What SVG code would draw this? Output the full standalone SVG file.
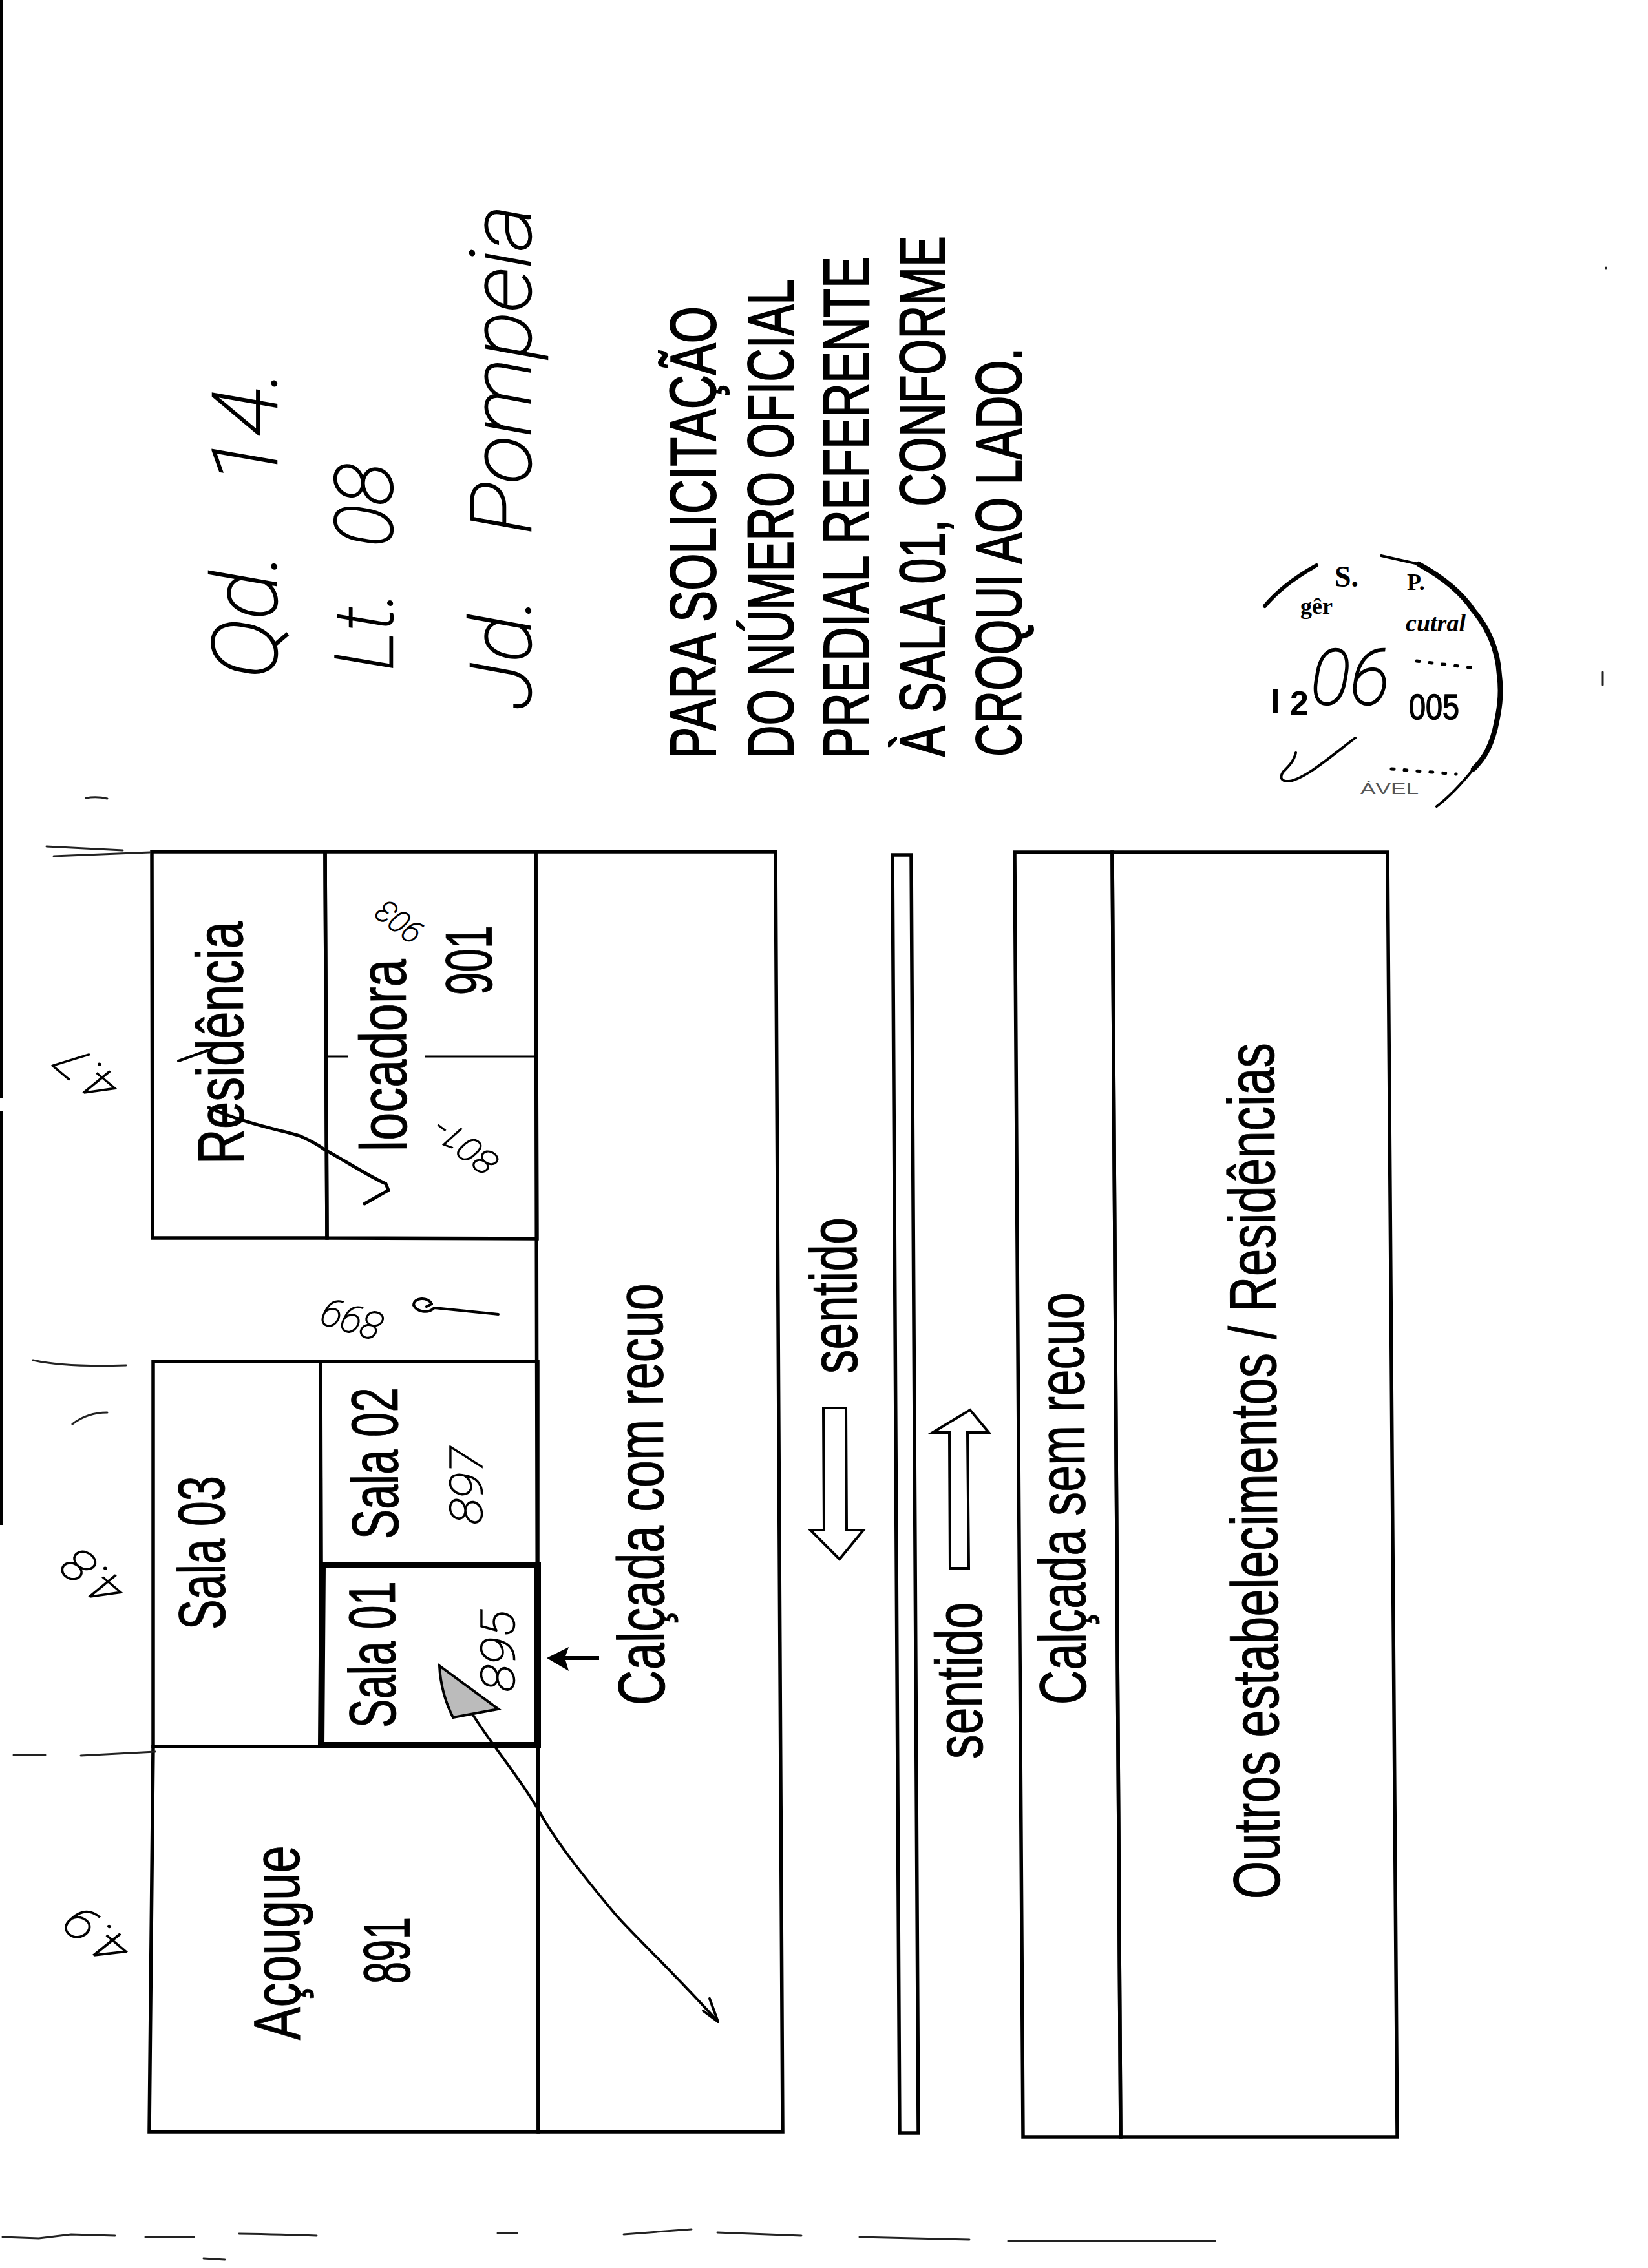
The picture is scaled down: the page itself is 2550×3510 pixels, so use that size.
<svg xmlns="http://www.w3.org/2000/svg" width="2550" height="3510" viewBox="0 0 2550 3510">
<style>
.box{fill:none;stroke:#000;stroke-width:5.5;stroke-linejoin:miter}
.thick{fill:none;stroke:#000;stroke-width:10}
.t{font-family:"Liberation Sans",Arial,sans-serif;font-size:102px;fill:#000;stroke:#000;stroke-width:1}
.p{font-family:"Liberation Sans",Arial,sans-serif;font-size:100px;fill:#000;stroke:#000;stroke-width:2}
.h{font-family:Roboto,"DejaVu Sans",sans-serif;font-weight:100;font-style:italic;fill:#000;stroke:#000;stroke-width:1.6}
.ink{fill:none;stroke:#000;stroke-width:4;stroke-linecap:round;stroke-linejoin:round}
.noise{fill:none;stroke:#222;stroke-width:3;stroke-linecap:round}
.st{font-family:"Liberation Serif",serif;font-weight:700;fill:#000}
</style>
<rect width="2550" height="3510" fill="#fff"/>

<g id="residencia"><path class="box" d="M235 1318H503L506 1916H236Z"/>
<text class="t" textLength="376" lengthAdjust="spacingAndGlyphs" transform="translate(377,1802) rotate(-90.3)">Residência</text></g>
<g id="locadora"><path class="box" d="M503 1318H829L831 1917L506 1916Z"/>
<path fill="none" stroke="#000" stroke-width="3" d="M507 1635H539M658 1635H829"/>
<text class="t" textLength="298" lengthAdjust="spacingAndGlyphs" transform="translate(629,1782) rotate(-90.3)">locadora</text>
<text class="t" textLength="108" lengthAdjust="spacingAndGlyphs" transform="translate(761,1540) rotate(-90.3)">901</text>
<text class="h" font-size="48" textLength="76" lengthAdjust="spacingAndGlyphs" transform="translate(659,1436) rotate(-143)">903</text>
<text class="h" font-size="52" textLength="110" lengthAdjust="spacingAndGlyphs" transform="translate(775,1793) rotate(-143)">801-</text></g>
<g id="sala03"><path class="box" d="M237 2107H496L497 2703H237Z"/>
<text class="t" textLength="238" lengthAdjust="spacingAndGlyphs" transform="translate(348,2522) rotate(-90.3)">Sala 03</text></g>
<g id="sala02"><path class="box" d="M496 2107H832V2422H497Z"/>
<text class="t" textLength="235" lengthAdjust="spacingAndGlyphs" transform="translate(616,2382) rotate(-90.3)">Sala 02</text>
<text class="h" font-size="70" textLength="120" lengthAdjust="spacingAndGlyphs" transform="translate(746,2359) rotate(-90)">897</text></g>
<g id="sala01"><path class="thick" d="M499 2422H832V2701H497Z"/>
<text class="t" textLength="227" lengthAdjust="spacingAndGlyphs" transform="translate(612,2674) rotate(-90.3)">Sala 01</text>
<text class="h" font-size="72" textLength="126" lengthAdjust="spacingAndGlyphs" transform="translate(796,2618) rotate(-90)">895</text></g>
<g id="acougue"><path class="box" d="M237 2703H833V3299H231Z"/>
<text class="t" textLength="301" lengthAdjust="spacingAndGlyphs" transform="translate(464,3157) rotate(-90.3)">Açougue</text>
<text class="t" textLength="103" lengthAdjust="spacingAndGlyphs" transform="translate(634,3070) rotate(-90.3)">891</text></g>
<g id="calcada-com-recuo"><path class="box" d="M829 1318H1200L1211 3299H833Z"/>
<text class="t" textLength="653" lengthAdjust="spacingAndGlyphs" transform="translate(1028,2639) rotate(-90.3)">Calçada com recuo</text></g>
<g id="canteiro"><path class="box" d="M1381 1323H1410L1421 3301H1392Z"/></g>
<g id="calcada-sem-recuo"><path class="box" d="M1570 1319H1721L1734 3307H1583Z"/>
<text class="t" textLength="638" lengthAdjust="spacingAndGlyphs" transform="translate(1680,2638) rotate(-90.3)">Calçada sem recuo</text></g>
<g id="outros"><path class="box" d="M1721 1319H2147L2162 3307H1734Z"/>
<text class="t" textLength="1325" lengthAdjust="spacingAndGlyphs" transform="translate(1980,2939) rotate(-90.4)">Outros estabelecimentos / Residências</text></g>

<g id="sentido-1"><text class="t" textLength="242" lengthAdjust="spacingAndGlyphs" transform="translate(1326,2126) rotate(-90.3)">sentido</text>
<path fill="none" stroke="#000" stroke-width="4" d="M1274 2179H1309L1310 2368H1336L1299 2413L1254 2368H1275Z"/></g>
<g id="sentido-2"><text class="t" textLength="243" lengthAdjust="spacingAndGlyphs" transform="translate(1520,2722) rotate(-90.3)">sentido</text>
<path fill="none" stroke="#000" stroke-width="4" d="M1470 2427L1469 2217H1443L1501 2182L1530 2217H1497L1499 2427Z"/></g>

<g id="paragrafo">
<text class="p" textLength="700" lengthAdjust="spacingAndGlyphs" transform="translate(1107,1174) rotate(-90)">PARA SOLICITAÇÃO</text>
<text class="p" textLength="742" lengthAdjust="spacingAndGlyphs" transform="translate(1227,1174) rotate(-90)">DO NÚMERO OFICIAL</text>
<text class="p" textLength="777" lengthAdjust="spacingAndGlyphs" transform="translate(1344,1174) rotate(-90)">PREDIAL REFERENTE</text>
<text class="p" textLength="806" lengthAdjust="spacingAndGlyphs" transform="translate(1462,1171) rotate(-90)">À SALA 01, CONFORME</text>
<text class="p" textLength="633" lengthAdjust="spacingAndGlyphs" transform="translate(1580,1171) rotate(-90)">CROQUI AO LADO.</text>
</g>

<g id="manuscrito">
<text class="h" font-size="140" word-spacing="70" textLength="479" lengthAdjust="spacingAndGlyphs" transform="translate(428,1050) rotate(-90)" style="stroke-width:2.5">Qd. 14.</text>
<text class="h" font-size="125" word-spacing="40" textLength="321" lengthAdjust="spacingAndGlyphs" transform="translate(607,1038) rotate(-90)" style="stroke-width:2.5">Lt. 08</text>
<text class="h" font-size="130" word-spacing="60" textLength="781" lengthAdjust="spacingAndGlyphs" transform="translate(821,1098) rotate(-90)" style="stroke-width:2.5">Jd. Pompeia</text>
<text class="h" font-size="60" textLength="95" lengthAdjust="spacingAndGlyphs" transform="translate(597,2035) rotate(-163)">899</text>
<text class="h" font-size="72" textLength="100" lengthAdjust="spacingAndGlyphs" transform="translate(190,1675) rotate(-140)">4.7</text>
<text class="h" font-size="72" textLength="100" lengthAdjust="spacingAndGlyphs" transform="translate(199,2455) rotate(-140)">4.8</text>
<text class="h" font-size="72" textLength="105" lengthAdjust="spacingAndGlyphs" transform="translate(207,3011) rotate(-140)">4.9</text>
</g>

<g id="conectores">
<path d="M927 2566H868" fill="none" stroke="#000" stroke-width="6"/>
<path d="M846 2566L880 2549L874 2566L880 2586Z" fill="#000"/>
<path class="ink" d="M1111 3129C1040 3050 970 2985 950 2960C900 2900 860 2850 833 2801C800 2745 760 2700 730 2651"/>
<path class="ink" d="M1098 3093L1111 3129L1088 3112"/>
<path d="M680 2578L771 2645L701 2658Q682 2620 680 2578Z" fill="#bbb" stroke="#000" stroke-width="4"/>
<path d="M323 1714C380 1740 440 1750 464 1758C480 1765 490 1770 502 1779C540 1800 570 1820 597 1832L601 1842L564 1863" fill="none" stroke="#000" stroke-width="5" stroke-linecap="round"/>
<path class="ink" d="M276 1642L323 1625"/>
<path class="ink" d="M771 2034L672 2024C662 2034 645 2030 640 2020C640 2008 662 2006 668 2018L660 2022"/>
</g>

<g id="carimbo">
<path fill="none" stroke="#000" stroke-width="6" stroke-linecap="round" d="M1957 938C1980 910 2010 890 2037 875"/>
<path fill="none" stroke="#000" stroke-width="8" stroke-linecap="round" d="M2195 873C2230 892 2260 915 2280 945C2305 975 2318 1010 2320 1045C2324 1075 2320 1100 2313 1130C2305 1160 2295 1175 2280 1190"/>
<path fill="none" stroke="#000" stroke-width="4" stroke-linecap="round" d="M2137 860L2195 873M2280 1190C2260 1215 2240 1235 2223 1248"/>
<path d="M2192 1023L2290 1035M2153 1190L2253 1198" stroke="#000" stroke-width="5" stroke-dasharray="4 16" stroke-linecap="round"/>
<text class="st" font-size="46" x="2065" y="908">S.</text>
<text class="st" font-size="36" x="2177" y="913">P.</text>
<text class="st" font-size="36" x="2012" y="950">gêr</text>
<text class="st" font-size="38" font-style="italic" x="2175" y="977" textLength="93" lengthAdjust="spacingAndGlyphs">cutral</text>
<text font-family="Liberation Sans,sans-serif" font-weight="700" font-size="52" x="1966" y="1103">I</text>
<text font-family="Liberation Sans,sans-serif" font-weight="700" font-size="52" x="1996" y="1106">2</text>
<text font-family="Liberation Sans,sans-serif" font-size="56" stroke="#000" stroke-width="1.5" x="2180" y="1113" textLength="78" lengthAdjust="spacingAndGlyphs">005</text>
<text font-family="Liberation Sans,sans-serif" font-size="24" fill="#555" x="2105" y="1229" textLength="90" lengthAdjust="spacingAndGlyphs">ÁVEL</text>
<text class="h" font-size="118" x="2028" y="1090" textLength="122" lengthAdjust="spacingAndGlyphs" style="stroke-width:2.5">06</text>
<path class="ink" d="M2097 1142C2060 1170 2020 1205 1995 1209C1982 1210 1980 1203 1985 1195C1995 1185 2002 1178 2005 1165"/>
</g>

<g id="marcas">
<path d="M2 0V1700M2 1720V2360" stroke="#000" stroke-width="4" fill="none"/>
<path class="noise" d="M83 1325L232 1319M72 1310L190 1316M133 1235Q150 1232 166 1236M51 2105Q100 2116 195 2113M112 2204Q135 2186 166 2186M21 2716H70M125 2717L240 2711"/>
<path class="noise" d="M4 3462L60 3464L110 3458L178 3460M225 3462H300M370 3457Q440 3458 490 3460M770 3456H800M965 3458L1070 3450M1110 3455L1240 3460M1330 3462L1500 3466M1560 3468H1880"/>
<path class="noise" d="M315 3495L348 3497M2485 414V416M2480 1040V1060"/>
</g>
</svg>
